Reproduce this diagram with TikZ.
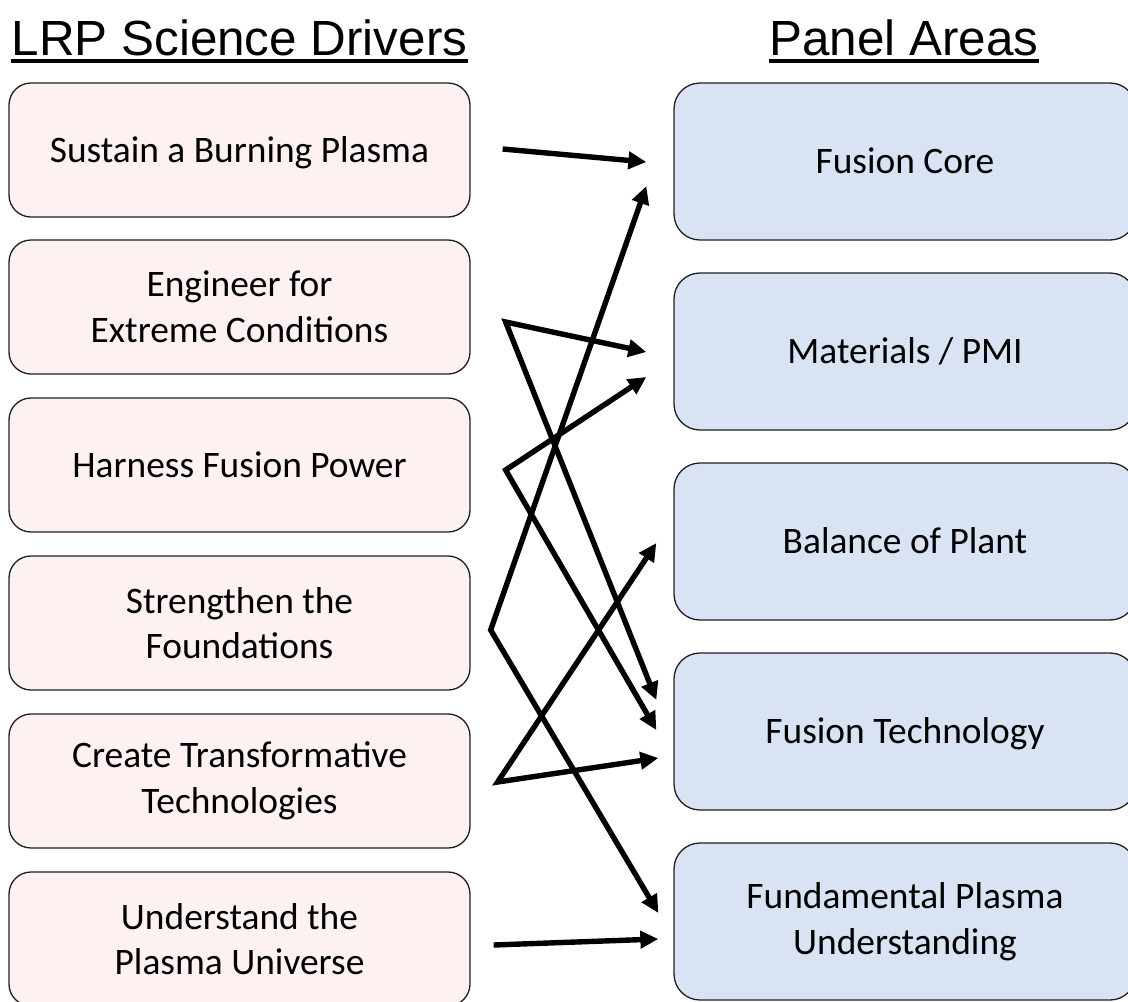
\documentclass[tikz,border=0pt]{standalone}
\usepackage{fontspec}
\usepackage{xcolor}
\usetikzlibrary{arrows.meta}
\newfontfamily\headfont{Liberation Sans}
\newfontfamily\boxfont{Carlito}
\definecolor{DriverPink}{HTML}{FEF1F2}
\definecolor{PanelBlue}{HTML}{DAE3F3}
\definecolor{BoxEdge}{HTML}{1F1F1F}
\tikzset{
  driver/.style={draw=BoxEdge, line width=1.3pt, fill=DriverPink, rounded corners=22pt,
    minimum width=461pt, minimum height=134pt, inner sep=0pt, align=center,
    font=\boxfont\fontsize{37.4}{45.5}\selectfont},
  panel/.style={driver, fill=PanelBlue, rounded corners=26pt,
    minimum width=462pt, minimum height=157pt},
  oneline/.style={text height=26pt, text depth=2pt},
  heading/.style={inner sep=0pt, anchor=base, font=\headfont\fontsize{49.4}{59}\selectfont},
  onelink/.style={line width=5.4pt, -{Triangle[length=18pt,width=17pt]}},
  twolink/.style={line width=5.4pt, {Triangle[length=18pt,width=17pt]}-{Triangle[length=18pt,width=17pt]}}
}

\begin{document}
\begin{tikzpicture}[x=1pt,y=-1pt]
        \useasboundingbox (0,0) rectangle (1128,1002);
        \node[heading] (lrp) at (239.5,55) {LRP Science Drivers};
        \node[heading] (areas) at (904,55) {Panel Areas};
        \draw[line width=4pt] ([yshift=-5.5pt]lrp.base west) -- ([yshift=-5.5pt]lrp.base east);
        \draw[line width=4pt] ([yshift=-5.5pt]areas.base west) -- ([yshift=-5.5pt]areas.base east);

        \node[driver, oneline] (sustain) at (239.5,150) {Sustain a Burning Plasma};
        \node[driver] (engineer) at (239.5,307) {Engineer for\\Extreme Conditions};
        \node[driver, oneline] (harness) at (239.5,465) {Harness Fusion Power};
        \node[driver] (strengthen) at (239.5,623) {Strengthen the\\Foundations};
        \node[driver] (create) at (239.5,781) {Create Transformative\\Technologies};
        \node[driver] (understand) at (239.5,939) {Understand the\\Plasma Universe};

        \node[panel, oneline] (core) at (905,161.5) {Fusion Core};
        \node[panel, oneline] (mat) at (905,351.5) {Materials / PMI};
        \node[panel, oneline] (bop) at (905,541.5) {Balance of Plant};
        \node[panel, oneline] (tech) at (905,731.5) {Fusion Technology};
        \node[panel] (fpu) at (905,921.5) {Fundamental Plasma\\Understanding};

        \coordinate (sustain-o) at ([shift={(32,-1)}]sustain.east);
        \coordinate (engineer-o) at ([shift={(35,15)}]engineer.east);
        \coordinate (harness-o) at ([shift={(35,5)}]harness.east);
        \coordinate (strengthen-o) at ([shift={(20,7)}]strengthen.east);
        \coordinate (create-o) at ([shift={(27,1)}]create.east);
        \coordinate (understand-o) at ([shift={(23,6)}]understand.east);

        \draw[onelink] (sustain-o) -- ([shift={(-27,0.5)}]core.west);
        \draw[twolink] ([shift={(-27,0.5)}]mat.west) -- (engineer-o) -- ([shift={(-17,-31.5)}]tech.west);
        \draw[twolink] ([shift={(-27,25.5)}]mat.west) -- (harness-o) -- ([shift={(-17,-1.5)}]tech.west);
        \draw[twolink] ([shift={(-27,24.5)}]core.west) -- (strengthen-o) -- ([shift={(-15,-8.5)}]fpu.west);
        \draw[twolink] ([shift={(-17,1.5)}]bop.west) -- (create-o) -- ([shift={(-15,26.5)}]tech.west);
        \draw[onelink] (understand-o) -- ([shift={(-15,17.5)}]fpu.west);
    \end{tikzpicture}
\end{document}
